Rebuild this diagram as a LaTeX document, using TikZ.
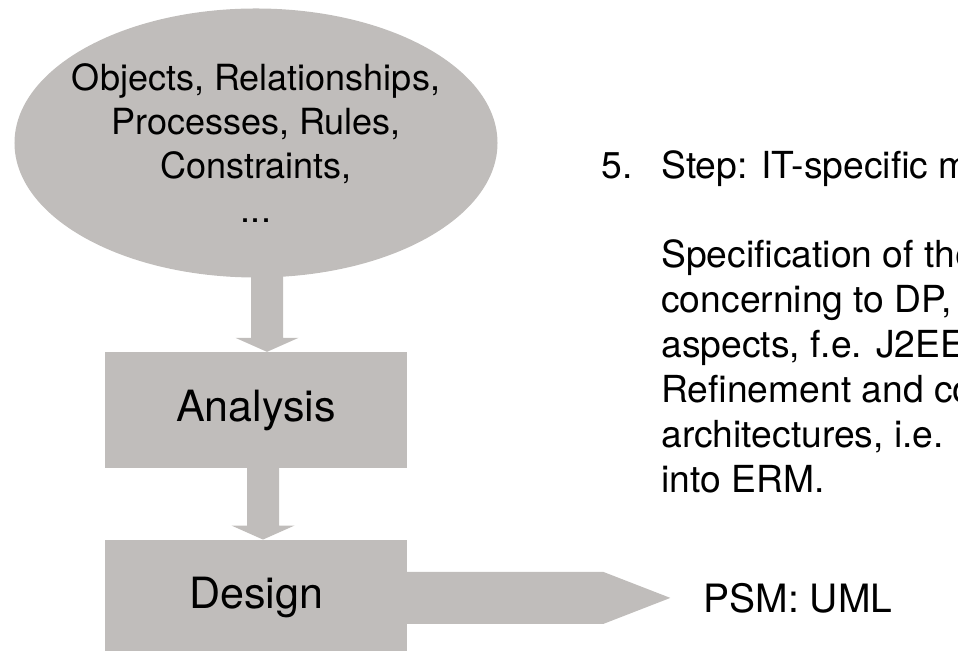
\documentclass[tikz,border=0pt]{standalone}
\usepackage{fontspec}
\setmainfont{TeX Gyre Heros}
\usetikzlibrary{calc, positioning, shapes.geometric}
\definecolor{shapegray}{RGB}{192,189,187}
\tikzset{
    stage/.style = {fill = shapegray, minimum width = 60.4mm, minimum height = 23.2mm,
        inner sep = 0pt, font = \fontsize{24.5}{29}\selectfont},
    blockarrow/.style = {fill = shapegray},
}
\begin{document}
\begin{tikzpicture}[x = 0.2mm, y = -0.2mm]
                \useasboundingbox (0, 0) rectangle (958, 651);
                \clip (0, 0) rectangle (958, 651);
                % Cloud of things to model
                \node (objects) [ellipse, fill = shapegray, minimum width = 96.6mm, minimum height = 53.8mm,
                    inner xsep = -3mm, inner ysep = 0pt, align = center,
                    font = \fontsize{20.5}{25}\selectfont] at (256, 143)
                    {Objects, Relationships,\\ Processes, Rules,\\ Constraints,\\ ...};
                % Phases
                \node (analysis) [stage, below = 14.8mm of objects] {Analysis};
                \node (design) [stage, below = 14.2mm of analysis] {Design};
                \node (psm) [right = 59.2mm of design, inner sep = 0pt,
                    font = \fontsize{22.2}{27}\selectfont] {PSM: UML};
                % Step description
                \node (step) [anchor = north west, inner sep = 0pt, align = left,
                    font = \fontsize{21.2}{25.6}\selectfont] at (661, 150)
                    {\llap{\makebox[11.9mm][l]{5.}}Step: IT-specific m\\[25pt]
                     Specification of the\\ concerning to DP,\\ aspects, f.e. J2EE\\
                     Refinement and co\\ architectures, i.e.\\ into ERM.};
                % Arrows down
                \foreach \from/\to/\dx in {objects/analysis/11, analysis/design/7} {
                    \fill [blockarrow] ($(\to.north) + (\dx, 0)$) coordinate (tip)
                        -- ++(-31.5, -14) -- ++(15.5, 0)
                        -- ($(tip |- \from.south) + (-16, -4)$) -- ++(32, 0)
                        -- ($(tip) + (16, -14)$) -- ++(15.5, 0) -- cycle;
                }
                % Arrow to the right
                \fill [blockarrow]
                    ($(design.east) + (-2, -26)$) -- ($(psm.west) + (-100, -26)$)
                    -- ($(psm.west) + (-33, 0)$) -- ($(psm.west) + (-100, 26)$)
                    -- ($(design.east) + (-2, 26)$) -- cycle;
            \end{tikzpicture}
\end{document}
